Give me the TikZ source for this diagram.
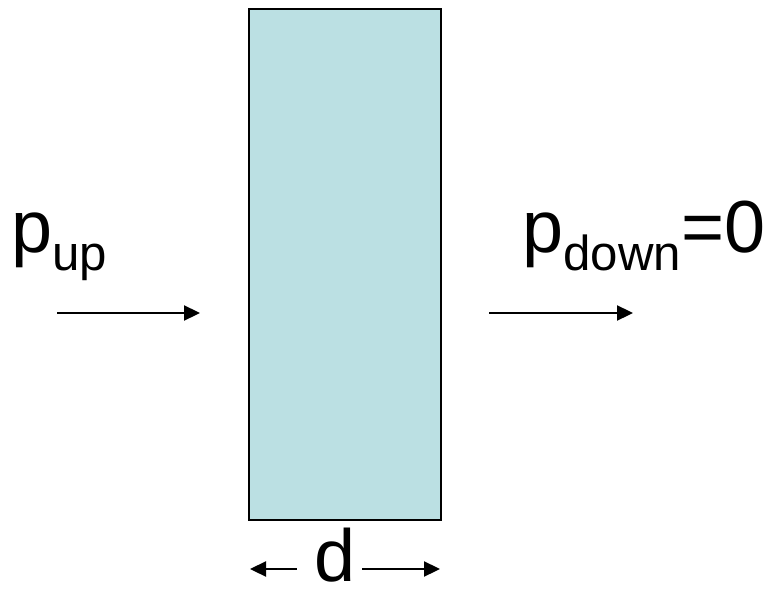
\documentclass[tikz,border=0pt]{standalone}
\usepackage{fontspec}
\setmainfont{Liberation Sans}
\usetikzlibrary{positioning, arrows.meta}

\definecolor{slabfill}{RGB}{187,224,227}
\newcommand{\subtext}[1]{\raisebox{-0.36cm}{\fontsize{28}{30}\selectfont #1}}

\begin{document}
\begin{tikzpicture}[
    font=\fontsize{42}{44}\selectfont,
    >={Triangle[length=0.32cm, width=0.3cm]},
    slab_box/.style={draw, line width=1.6pt, fill=slabfill, minimum width=3.84cm, minimum height=10.22cm, inner sep=0pt},
    press_label/.style={anchor=base west, inner sep=0pt},
    arrow/.style={->, line width=1.3pt}
]

\useasboundingbox (0,0) rectangle (15.36,11.8);

% Slab
\node[slab_box] (slab) at (6.9,6.51) {};

% Pressure labels
\node[press_label] (pup) at (0.22,6.76) {p\subtext{up}};
\node[press_label] (pdown) at (10.44,6.76) {p\subtext{down}=0};

% Flow arrows
\coordinate (inA) at (1.14,5.54);
\coordinate (inB) at (4.0,5.54);
\coordinate (outA) at (9.78,5.54);
\coordinate (outB) at (12.66,5.54);
\draw[arrow] (inA) -- (inB);
\draw[arrow] (outA) -- (outB);

% Thickness
\node[anchor=base, inner sep=0pt, inner xsep=0.2cm] (dlab) at (6.7,0.18) {d};
\coordinate (dleft) at (5.0,0.42);
\coordinate (dright) at (8.8,0.42);
\draw[arrow] ([xshift=-0.15cm]dlab.west |- dleft) -- (dleft);
\draw[arrow] ([xshift=-0.07cm]dlab.east |- dright) -- (dright);

\end{tikzpicture}
\end{document}
